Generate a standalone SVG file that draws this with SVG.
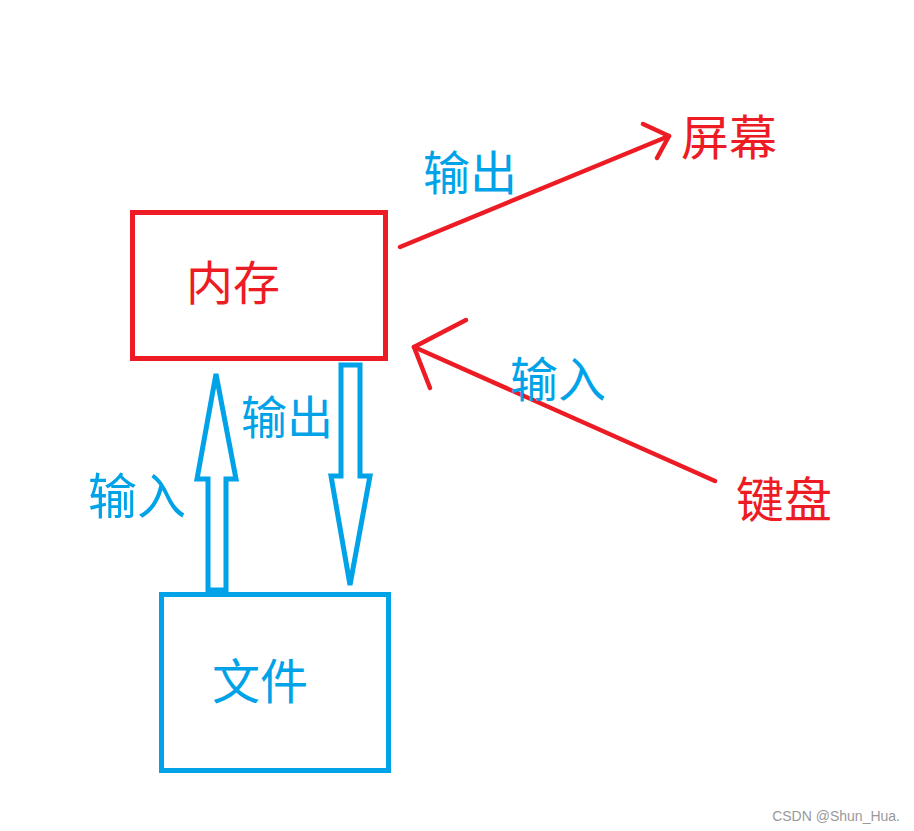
<svg xmlns="http://www.w3.org/2000/svg" width="914" height="831" viewBox="0 0 914 831">
<style>
.red{fill:none;stroke:#ED1C24;stroke-width:4.5;stroke-linecap:round;stroke-linejoin:round}
.blue{fill:none;stroke:#00A2E8;stroke-width:5;stroke-linejoin:miter}
.t{font-family:"Noto Sans CJK SC","Noto Sans",sans-serif;font-size:47px}
.tr{fill:#ED1C24}
.tb{fill:#00A2E8}
</style>
<rect width="914" height="831" fill="#ffffff"/>
<g id="memory">
<rect x="132.5" y="212.5" width="253" height="146" fill="none" stroke="#ED1C24" stroke-width="5"/>
<text class="t tr" x="186" y="300">内存</text>
</g>
<g id="file">
<rect x="161.5" y="594.5" width="227" height="176" fill="none" stroke="#00A2E8" stroke-width="5"/>
<text class="t tb" x="212" y="699" style="font-size:48px">文件</text>
</g>
<g id="screen">
<text class="t tr" x="681" y="155" style="font-size:48px">屏幕</text>
</g>
<g id="keyboard">
<text class="t tr" x="736" y="517" style="font-size:48px">键盘</text>
</g>
<g id="connectors">
<polyline class="red" points="400,247 669,136"/>
<polyline class="red" points="643,124 669,136 657,158"/>
<polyline class="red" points="715,481 414,347"/>
<polyline class="red" points="466,320 414,347 430,388"/>
<polygon class="blue" points="216,374 236,479 226,479 226,590 208,590 208,479 197,479"/>
<polygon class="blue" points="341,365 360,365 360,476 370,476 350,585 331,476 341,476"/>
<text class="t tb" x="423" y="190">输出</text>
<text class="t tb" x="510" y="397" style="font-size:48px">输入</text>
<text class="t tb" x="241" y="434" style="font-size:46px">输出</text>
<text class="t tb" x="88" y="514" style="font-size:49px">输入</text>
</g>
<text x="900" y="821" text-anchor="end" font-family="Liberation Sans, Arial, sans-serif" font-size="14" fill="#999999">CSDN @Shun_Hua.</text>
</svg>
